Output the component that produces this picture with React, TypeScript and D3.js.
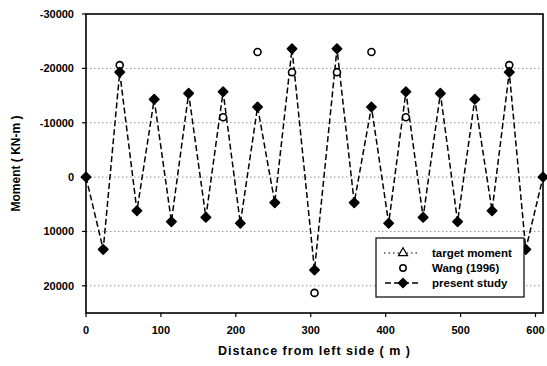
import React from "react";
import * as d3 from "d3";

const distances = [0, 23, 45, 68, 91, 114, 137, 160, 183, 206, 229, 252, 275, 305, 335, 358, 381, 404, 427, 450, 473, 496, 519, 542, 565, 587, 610];
const presentStudy = [0, 13300, -19300, 6200, -14300, 8200, -15400, 7400, -15700, 8500, -12900, 4700, -23600, 17100, -23600, 4700, -12900, 8500, -15700, 7400, -15400, 8200, -14300, 6200, -19300, 13300, 0];
const wangDistances = [45, 183, 229, 275, 305, 335, 381, 427, 565];
const wangValues = [-20600, -11000, -23000, -19300, 21300, -19300, -23000, -11000, -20600];
const xTicks = [0, 100, 200, 300, 400, 500, 600];
const yTicks = [-30000, -20000, -10000, 0, 10000, 20000];
const gridValues = [-20000, -10000, 0, 10000, 20000];
const legendLabels = ["target moment", "Wang (1996)", "present study"];

export default function App() {
  const W = 547, H = 366;
  const left = 86, right = 543, top = 14, bottom = 313;
  const x = d3.scaleLinear().domain([0, 610]).range([left, right]);
  const y = d3.scaleLinear().domain([-30000, 25000]).range([top, bottom]);
  const line = d3.line<number>().x((_, i) => x(distances[i])).y((v) => y(v));
  const diamond = d3.symbol().type(d3.symbolSquare).size(44)() as string;
  const font = "'Liberation Sans', Arial, sans-serif";
  return (
    <svg width={W} height={H} style={{ position: "absolute", left: 0, top: 0, background: "#fff" }} fontFamily={font}>
      {gridValues.map((g) => (
        <line key={g} x1={left} x2={right} y1={y(g)} y2={y(g)} stroke="#777" strokeWidth={0.8} strokeDasharray="1.5,2.5" />
      ))}
      <rect x={left} y={top} width={right - left} height={bottom - top} fill="none" stroke="#000" strokeWidth={1.6} />
      {yTicks.map((t) => (
        <g key={t}>
          <line x1={left - 4} x2={left} y1={y(t)} y2={y(t)} stroke="#000" strokeWidth={1.2} />
          <text x={left - 12} y={y(t)} dy="0.35em" textAnchor="end" fontSize={11} fontWeight="bold">{t}</text>
        </g>
      ))}
      {xTicks.map((t) => (
        <g key={t}>
          <line x1={x(t)} x2={x(t)} y1={bottom} y2={bottom + 4} stroke="#000" strokeWidth={1.2} />
          <text x={x(t)} y={bottom + 21} textAnchor="middle" fontSize={11} fontWeight="bold">{t}</text>
        </g>
      ))}
      <path d={line(presentStudy) as string} fill="none" stroke="#000" strokeWidth={1.5} strokeDasharray="6,3" />
      {wangDistances.map((d, i) => (
        <circle key={i} cx={x(d)} cy={y(wangValues[i])} r={3.5} fill="#fff" stroke="#000" strokeWidth={1.6} />
      ))}
      {presentStudy.map((v, i) => (
        <path key={i} d={diamond} transform={`translate(${x(distances[i])},${y(v)}) rotate(45)`} fill="#000" stroke="#000" strokeWidth={1.6} strokeLinejoin="round" />
      ))}
      <text transform={`translate(20,${(top + bottom) / 2}) rotate(-90)`} textAnchor="middle" fontSize={12} fontWeight="bold">Moment ( KN-m )</text>
      <text x={(left + right) / 2} y={355} textAnchor="middle" fontSize={12.5} fontWeight="bold" letterSpacing={1}>Distance from left side ( m )</text>
      <g>
        <rect x={376} y={238} width={148} height={59} fill="#fff" stroke="#000" strokeWidth={1.2} />
        <line x1={384} x2={420} y1={253} y2={253} stroke="#000" strokeWidth={1} strokeDasharray="1.5,3" />
        <path d={d3.symbol().type(d3.symbolTriangle).size(35)() as string} transform="translate(403,253)" fill="#fff" stroke="#000" strokeWidth={1.2} />
        <circle cx={403} cy={268} r={3.2} fill="#fff" stroke="#000" strokeWidth={1.5} />
        <line x1={385} x2={421} y1={283} y2={283} stroke="#000" strokeWidth={1.5} strokeDasharray="6,3" />
        <path d={diamond} transform="translate(403,283) rotate(45)" fill="#000" stroke="#000" strokeWidth={1.2} />
        {legendLabels.map((l, i) => (
          <text key={l} x={432} y={253 + i * 15} dy="0.35em" fontSize={11.5} fontWeight="bold">{l}</text>
        ))}
      </g>
    </svg>
  );
}
